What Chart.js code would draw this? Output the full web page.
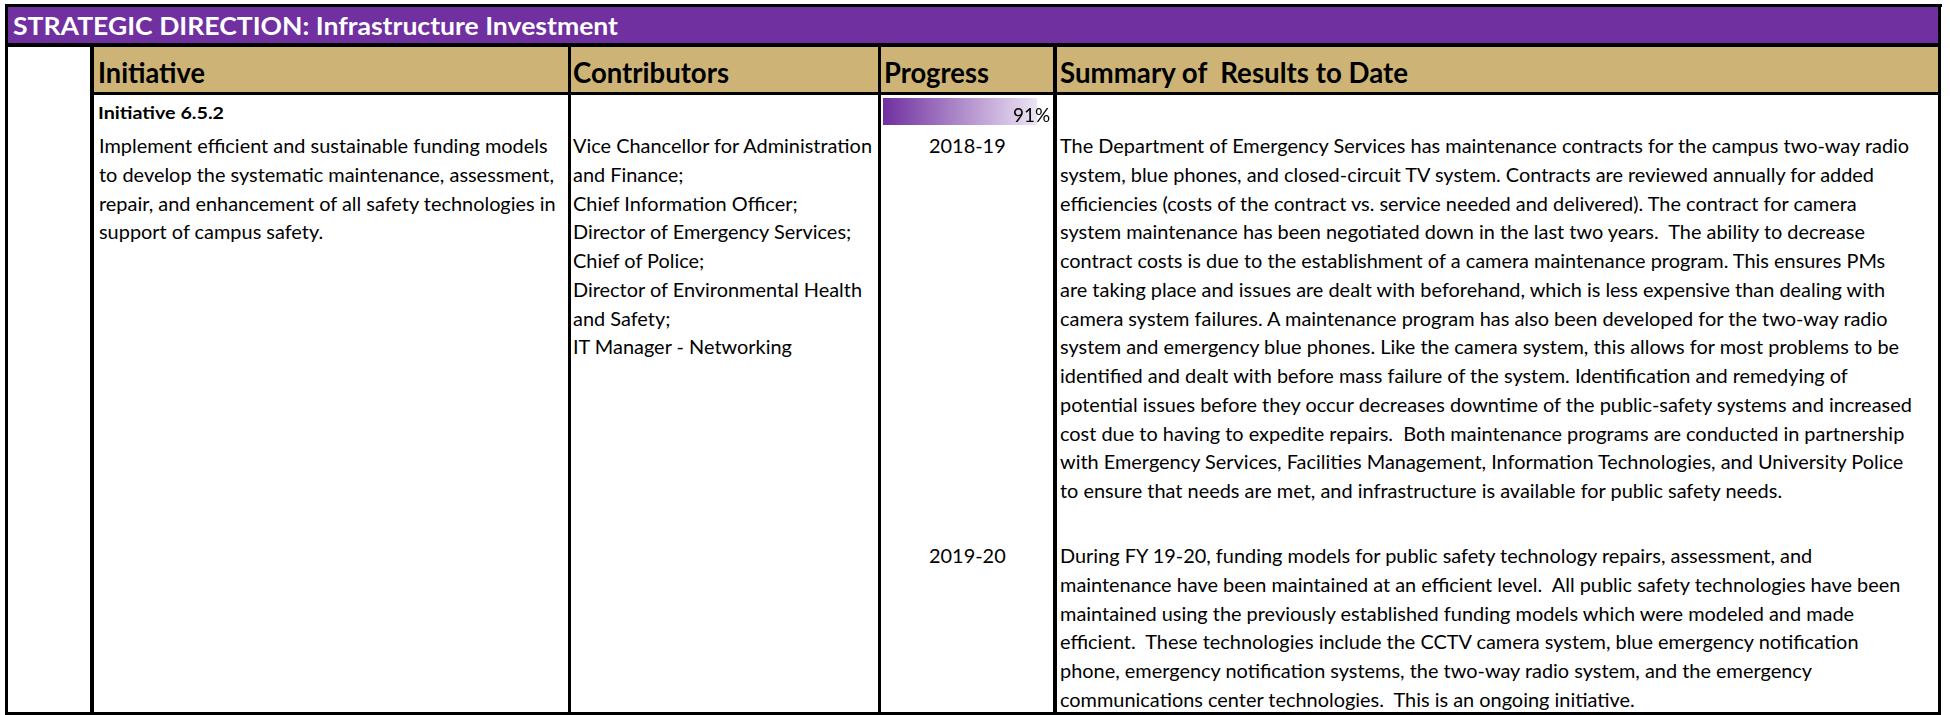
<!DOCTYPE html>
<html><head><meta charset="utf-8">
<script src="https://cdn.jsdelivr.net/npm/chart.js@4/dist/chart.umd.min.js"></script>
<style>
html,body{margin:0;padding:0;background:#fff;width:1950px;height:715px;overflow:hidden;}
#root{position:absolute;left:0;top:0;width:1950px;height:715px;}
.r{position:absolute;}
.t{position:absolute;white-space:pre;font-family:Lato,'Open Sans',sans-serif;color:#000;line-height:1;}
</style></head><body>
<div id="root"></div>
<script>
// ---- data ----
const titleText = 'STRATEGIC DIRECTION: Infrastructure Investment';
const headerLabels = ['Initiative', 'Contributors', 'Progress', 'Summary of  Results to Date'];
const progressLabels = ['Initiative 6.5.2'];
const progressValues = [91];
const fiscalYears = ['2018-19', '2019-20'];
const initiativeId = 'Initiative 6.5.2';
const initiativeLines = [
  'Implement efficient and sustainable funding models',
  'to develop the systematic maintenance, assessment,',
  'repair, and enhancement of all safety technologies in',
  'support of campus safety.'
];
const contributorLines = [
  'Vice Chancellor for Administration',
  'and Finance;',
  'Chief Information Officer;',
  'Director of Emergency Services;',
  'Chief of Police;',
  'Director of Environmental Health',
  'and Safety;',
  'IT Manager - Networking'
];
const summaryLines2018 = [
  'The Department of Emergency Services has maintenance contracts for the campus two-way radio',
  'system, blue phones, and closed-circuit TV system. Contracts are reviewed annually for added',
  'efficiencies (costs of the contract vs. service needed and delivered). The contract for camera',
  'system maintenance has been negotiated down in the last two years.  The ability to decrease',
  'contract costs is due to the establishment of a camera maintenance program. This ensures PMs',
  'are taking place and issues are dealt with beforehand, which is less expensive than dealing with',
  'camera system failures. A maintenance program has also been developed for the two-way radio',
  'system and emergency blue phones. Like the camera system, this allows for most problems to be',
  'identified and dealt with before mass failure of the system. Identification and remedying of',
  'potential issues before they occur decreases downtime of the public-safety systems and increased',
  'cost due to having to expedite repairs.  Both maintenance programs are conducted in partnership',
  'with Emergency Services, Facilities Management, Information Technologies, and University Police',
  'to ensure that needs are met, and infrastructure is available for public safety needs.'
];
const summaryLines2019 = [
  'During FY 19-20, funding models for public safety technology repairs, assessment, and',
  'maintenance have been maintained at an efficient level.  All public safety technologies have been',
  'maintained using the previously established funding models which were modeled and made',
  'efficient.  These technologies include the CCTV camera system, blue emergency notification',
  'phone, emergency notification systems, the two-way radio system, and the emergency',
  'communications center technologies.  This is an ongoing initiative.'
];

// ---- layout helpers ----
const root = document.getElementById('root');
const PURPLE = '#7030A0', GOLD = '#CDB476';
function rect(x, y, w, h, c) {
  const d = document.createElement('div'); d.className = 'r';
  Object.assign(d.style, {left: x + 'px', top: y + 'px', width: w + 'px', height: h + 'px', background: c});
  root.appendChild(d); return d;
}
// sc: horizontal scale; tw: target width (overrides sc if given)
function txt(s, x, base, size, weight, color, align, sc, tw) {
  const d = document.createElement('div'); d.className = 't';
  d.style.fontSize = size + 'px'; d.style.fontWeight = weight; d.style.color = color;
  d.style.left = '0px'; d.style.top = '0px';
  d.textContent = s;
  const m = document.createElement('span');
  Object.assign(m.style, {display: 'inline-block', width: '0px', height: '0px', verticalAlign: 'baseline'});
  d.appendChild(m); root.appendChild(d);
  const bOff = m.offsetTop;
  const w = d.getBoundingClientRect().width;
  if (tw) sc = tw / w;
  let left = align === 'left' ? x : align === 'right' ? x - w * sc : x - w * sc / 2;
  d.style.left = left + 'px'; d.style.top = (base - bOff) + 'px';
  d.style.transformOrigin = '0 0';
  d.style.transform = 'scaleX(' + sc + ')';
  return sc;
}

// ---- fills & borders ----
rect(8, 7, 1930, 36, PURPLE);
rect(94, 47, 1844, 45, GOLD);
rect(5, 4, 1937, 3, '#000');
rect(5, 4, 3, 711, '#000');
rect(1938, 4, 3, 711, '#000');
rect(5, 712, 1936, 3, '#000');
rect(8, 43, 1930, 4, '#000');
rect(94, 92, 1844, 3, '#000');
rect(90, 43, 4, 672, '#000');
rect(568, 47, 3, 668, '#000');
rect(878, 47, 3, 668, '#000');
rect(1053, 47, 4, 668, '#000');

// ---- text ----
const BODY = 20;
txt(titleText, 13, 35, 25, 700, '#fff', 'left', 1, 605);
const hdrX = [98, 573, 884, 1060];
const hdrW = [107, 156, 105, 348];
headerLabels.forEach((h, i) => txt(h, hdrX[i], 83, 28, 700, '#000', 'left', 1, hdrW[i]));
txt(initiativeId, 98, 119, 17, 700, '#000', 'left', 1, 126);
const LH = 28.75;
const kBody = txt(contributorLines[0], 573, 153, BODY, 400, '#000', 'left', 1, 299);
contributorLines.slice(1).forEach((s, i) => txt(s, 573, 153 + (i + 1) * LH, BODY, 400, '#000', 'left', kBody));
initiativeLines.forEach((s, i) => txt(s, 99, 153 + i * LH, BODY, 400, '#000', 'left', kBody));
txt(fiscalYears[0], 967, 153, BODY, 400, '#000', 'center', kBody);
txt(fiscalYears[1], 967, 563, BODY, 400, '#000', 'center', kBody);
summaryLines2018.forEach((s, i) => txt(s, 1060, 153 + i * LH, BODY, 400, '#000', 'left', kBody));
summaryLines2019.forEach((s, i) => txt(s, 1060, 563 + i * LH, BODY, 400, '#000', 'left', kBody));

// ---- progress data bar (Chart.js) ----
const holder = document.createElement('div'); holder.className = 'r';
Object.assign(holder.style, {left: '883px', top: '98px', width: '169px', height: '27px'});
root.appendChild(holder);
const cv = document.createElement('canvas'); cv.width = 169; cv.height = 27;
cv.style.width = '169px'; cv.style.height = '27px'; cv.style.display = 'block';
holder.appendChild(cv);
new Chart(cv, {
  type: 'bar',
  data: {
    labels: progressLabels,
    datasets: [{
      data: progressValues,
      borderWidth: 0,
      barPercentage: 1,
      categoryPercentage: 1,
      backgroundColor: (c) => {
        const ch = c.chart, a = ch.chartArea;
        if (!a) return PURPLE;
        const v = progressValues[c.dataIndex || 0];
        const x1 = ch.scales.x.getPixelForValue(v);
        const g = ch.ctx.createLinearGradient(a.left, 0, x1, 0);
        g.addColorStop(0, 'rgb(112,48,160)');
        g.addColorStop(1, 'rgb(236,228,243)');
        return g;
      }
    }]
  },
  options: {
    indexAxis: 'y', responsive: false, maintainAspectRatio: false, animation: false,
    layout: {padding: 0},
    plugins: {legend: {display: false}, tooltip: {enabled: false}},
    scales: {x: {display: false, min: 0, max: 100}, y: {display: false}}
  }
});
txt(progressValues[0] + '%', 1050, 122, 19, 400, '#000', 'right', kBody);
</script>
</body></html>
